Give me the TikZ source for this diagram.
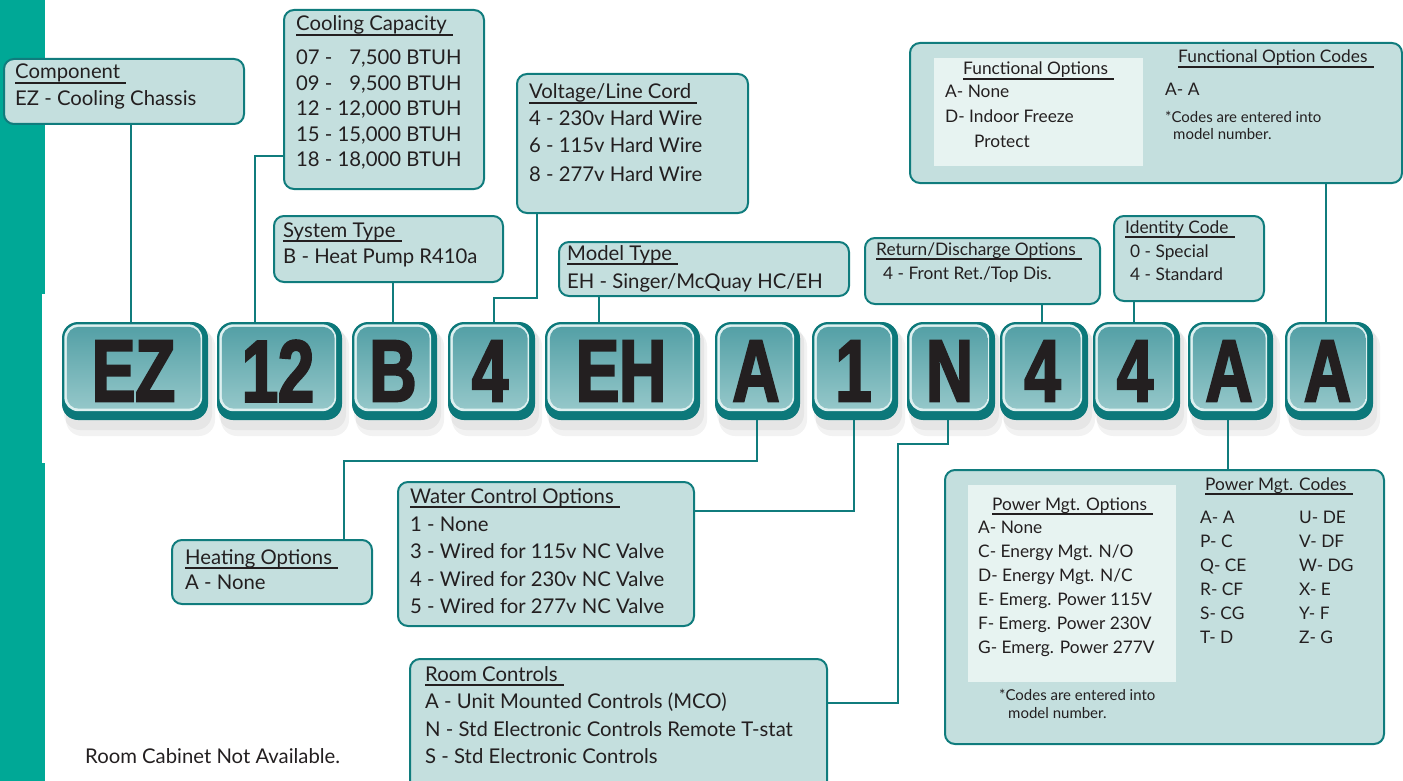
\documentclass[tikz,border=0pt]{standalone}
\usepackage{fontspec}
\setmainfont{Lato}
\newfontfamily\bigf{Liberation Sans}[FakeStretch=0.74,FakeBold=2.5]
\usetikzlibrary{calc}
\definecolor{boxfill}{RGB}{196,223,222}
\definecolor{boxline}{RGB}{16,124,125}
\definecolor{innerfill}{RGB}{231,243,241}
\definecolor{textcol}{RGB}{35,31,32}
\definecolor{stripcol}{RGB}{0,168,150}
\definecolor{keyrimc}{RGB}{12,120,122}
\definecolor{keytop}{RGB}{84,160,166}
\definecolor{keybot}{RGB}{148,199,201}
\definecolor{keyhlc}{RGB}{222,240,240}
\newcommand\fmain{\fontsize{20.3}{20.3}\selectfont}
\newcommand\fsmall{\fontsize{17.3}{17.3}\selectfont}
\newcommand\ffoot{\fontsize{15}{15}\selectfont}
\newcommand\ttl[4][\fmain]{%
  \node[txt,font=#1] (#2) at (#3) {#4};
  \draw[ulline] ([yshift=-4pt]#2.base west) -- ([yshift=-4pt,xshift=6pt]#2.base east);}
\newcommand\keybox[4]{%
  \fill[keyshadow] (#2-#3/2+2,326) rectangle (#2+#3/2+4,430);
  \fill[keyshadow] (#2-#3/2+4,330) rectangle (#2+#3/2+7,436);
  \node[keyrim, minimum width=#3pt] (#1) at (#2,371) {};
  \fill[keyhl] ([xshift=2.5pt,yshift=-2.5pt]#1.north west) rectangle ([xshift=-6pt,yshift=9pt]#1.south east);
  \shade[keyface] ([xshift=5pt,yshift=-5pt]#1.north west) rectangle ([xshift=-7.5pt,yshift=11.5pt]#1.south east);
  \node[keytxt] (#1t) at ([xshift=-1.5pt]#1.center) {#4};}
\begin{document}
\begin{tikzpicture}[x=1pt,y=-1pt,
  info/.style={draw=boxline, line width=2pt, fill=boxfill, rounded corners=10pt, inner sep=0pt, anchor=north west},
  innerbox/.style={fill=innerfill, inner sep=0pt, anchor=north west},
  conn/.style={draw=boxline, line width=2pt},
  txt/.style={anchor=base west, inner sep=0pt, text=textcol, font=\fmain},
  ulline/.style={draw=textcol, line width=1.1pt},
  keyrim/.style={fill=keyrimc, rounded corners=16pt, inner sep=0pt, minimum height=98pt},
  keyhl/.style={fill=keyhlc, rounded corners=14pt},
  keyface/.style={top color=keytop, bottom color=keybot, rounded corners=12pt},
  keytxt/.style={inner sep=0pt, text=textcol, font=\bigf\bfseries\fontsize{88}{88}\selectfont},
  keyshadow/.style={fill=black, opacity=0.05, rounded corners=16pt}]
\useasboundingbox (0,0) rectangle (1403,781);
% left strip
\fill[stripcol] (0,0) rectangle (45,781);
\fill[white] (42,294) rectangle (60,463);

% key row
\keybox{kEZ}{135}{146}{EZ}
\keybox{k12}{279.5}{125}{12}
\keybox{kB}{394.5}{85}{B}
\keybox{kfa}{491.5}{87}{4}
\keybox{kEH}{622.5}{155}{EH}
\keybox{kAa}{757.5}{85}{A}
\keybox{kone}{855}{86}{1}
\keybox{kN}{951}{88}{N}
\keybox{kfb}{1044}{88}{4}
\keybox{kfc}{1136.5}{87}{4}
\keybox{kAb}{1230.5}{85}{A}
\keybox{kAc}{1329}{88}{A}

% info boxes
\node[info, minimum width=240pt, minimum height=65pt] (comp) at (3,58) {};
\node[info, minimum width=200pt, minimum height=179pt] (cool) at (283,9) {};
\node[info, minimum width=229pt, minimum height=66pt] (sys) at (273,215) {};
\node[info, minimum width=231pt, minimum height=139pt] (volt) at (516,73) {};
\node[info, minimum width=290pt, minimum height=54pt] (model) at (558,241) {};
\node[info, minimum width=235pt, minimum height=66pt] (ret) at (864,237) {};
\node[info, minimum width=150pt, minimum height=85pt] (ident) at (1113,215) {};
\node[info, minimum width=492pt, minimum height=140pt] (func) at (909,42) {};
\node[innerbox, minimum width=209pt, minimum height=108pt] (funcin) at (934,58) {};
\node[info, minimum width=200pt, minimum height=64pt] (heat) at (171,539) {};
\node[info, minimum width=296pt, minimum height=144pt] (water) at (397,481) {};
\node[info, minimum width=417pt, minimum height=140pt] (room) at (409,658) {};
\node[info, minimum width=439pt, minimum height=274pt] (power) at (944,469) {};
\node[innerbox, minimum width=208pt, minimum height=197pt] (powin) at (968,485) {};

% connectors
\draw[conn] (kEZ.north -| 131,0) -- (comp.south -| 131,0);
\draw[conn] (k12.north -| 255,0) -- (255,156) -- (cool.west |- 0,156);
\draw[conn] (kB.north -| 393,0) -- (sys.south -| 393,0);
\draw[conn] (kfa.north -| 494,0) -- (494,298) -- (537,298) -- (volt.south -| 537,0);
\draw[conn] (kEH.north -| 599,0) -- (model.south -| 599,0);
\draw[conn] (kAa.south -| 757,0) -- (757,461) -- (344,461) -- (heat.north -| 344,0);
\draw[conn] (kone.south -| 854,0) -- (854,511) -- (water.east |- 0,511);
\draw[conn] (kN.south -| 948,0) -- (948,444) -- (898,444) -- (898,703) -- (room.east |- 0,703);
\draw[conn] (kfb.north -| 1042,0) -- (ret.south -| 1042,0);
\draw[conn] (kfc.north -| 1134,0) -- (ident.south -| 1134,0);
\draw[conn] (kAb.south -| 1228,0) -- (power.north -| 1228,0);
\draw[conn] (kAc.north -| 1326,0) -- (func.south -| 1326,0);

% texts
\ttl{tcomp}{15,79}{Component}
\node[txt] (lcomp) at (15,106) {EZ - Cooling Chassis};

\ttl{tcool}{296,31}{Cooling Capacity}
\node[txt] (lcoola) at (296,65) {07 - \hphantom{12,000}\llap{7,500} BTUH};
\node[txt] (lcoolb) at (296,91) {09 - \hphantom{12,000}\llap{9,500} BTUH};
\node[txt] (lcoolc) at (296,116) {12 - 12,000 BTUH};
\node[txt] (lcoold) at (296,142) {15 - 15,000 BTUH};
\node[txt] (lcoole) at (296,167) {18 - 18,000 BTUH};

\ttl{tsys}{283,237}{System Type}
\node[txt] (lsys) at (283,263) {B - Heat Pump R410a};

\ttl{tvolt}{529,99}{Voltage/Line Cord}
\node[txt] (lvolta) at (529,126) {4 - 230v Hard Wire};
\node[txt] (lvoltb) at (529,153) {6 - 115v Hard Wire};
\node[txt] (lvoltc) at (529,181) {8 - 277v Hard Wire};

\ttl{tmodel}{567,260}{Model Type}
\node[txt] (lmodel) at (567,288) {EH - Singer/McQuay HC/EH};

\ttl[\fsmall]{tret}{876,255}{Return/Discharge Options}
\node[txt,font=\fsmall] (lret) at (883,279) {4 - Front Ret./Top Dis.};

\ttl[\fsmall]{tident}{1125,233}{Identity Code}
\node[txt,font=\fsmall] (lidenta) at (1130,257) {0 - Special};
\node[txt,font=\fsmall] (lidentb) at (1130,280) {4 - Standard};

\ttl[\fsmall]{tfunc}{963,75}{Functional Options}
\node[txt,font=\fsmall] (lfunca) at (945,98) {A- None};
\node[txt,font=\fsmall] (lfuncb) at (945,123) {D- Indoor Freeze};
\node[txt,font=\fsmall] (lfuncc) at (974,147) {Protect};
\ttl[\fsmall]{tfcodes}{1178,63}{Functional Option Codes}
\node[txt,font=\fsmall] (lfcode) at (1165,96) {A- A};
\node[txt,font=\ffoot] (lfnotea) at (1165,123) {*Codes are entered into};
\node[txt,font=\ffoot] (lfnoteb) at (1173,140) {model number.};

\ttl{theat}{185,564}{Heating Options}
\node[txt] (lheat) at (185,589) {A - None};

\ttl{twater}{410,503}{Water Control Options}
\node[txt] (lwatera) at (410,531) {1 - None};
\node[txt] (lwaterb) at (410,558) {3 - Wired for 115v NC Valve};
\node[txt] (lwaterc) at (410,586) {4 - Wired for 230v NC Valve};
\node[txt] (lwaterd) at (410,613) {5 - Wired for 277v NC Valve};

\ttl{troom}{425,681}{Room Controls}
\node[txt] (lrooma) at (425,708) {A - Unit Mounted Controls (MCO)};
\node[txt] (lroomb) at (425,736) {N - Std Electronic Controls Remote T-stat};
\node[txt] (lroomc) at (425,763) {S - Std Electronic Controls};

\node[txt] (cabinet) at (85,763) {Room Cabinet Not Available.};

\ttl[\fsmall]{tpow}{992,510}{Power Mgt. Options}
\node[txt,font=\fsmall] (lpowa) at (978,533) {A- None};
\node[txt,font=\fsmall] (lpowb) at (978,557) {C- Energy Mgt. N/O};
\node[txt,font=\fsmall] (lpowc) at (978,581) {D- Energy Mgt. N/C};
\node[txt,font=\fsmall] (lpowd) at (978,605) {E- Emerg. Power 115V};
\node[txt,font=\fsmall] (lpowe) at (978,629) {F- Emerg. Power 230V};
\node[txt,font=\fsmall] (lpowf) at (978,653) {G- Emerg. Power 277V};
\ttl[\fsmall]{tpcodes}{1205,490}{Power Mgt. Codes}
\node[txt,font=\fsmall] (pca) at (1200,523) {A- A};
\node[txt,font=\fsmall] (pcb) at (1200,547) {P- C};
\node[txt,font=\fsmall] (pcc) at (1200,571) {Q- CE};
\node[txt,font=\fsmall] (pcd) at (1200,595) {R- CF};
\node[txt,font=\fsmall] (pce) at (1200,619) {S- CG};
\node[txt,font=\fsmall] (pcf) at (1200,643) {T- D};
\node[txt,font=\fsmall] (pcg) at (1299,523) {U- DE};
\node[txt,font=\fsmall] (pch) at (1299,547) {V- DF};
\node[txt,font=\fsmall] (pci) at (1299,571) {W- DG};
\node[txt,font=\fsmall] (pcj) at (1299,595) {X- E};
\node[txt,font=\fsmall] (pck) at (1299,619) {Y- F};
\node[txt,font=\fsmall] (pcl) at (1299,643) {Z- G};
\node[txt,font=\ffoot] (lpnotea) at (999,700) {*Codes are entered into};
\node[txt,font=\ffoot] (lpnoteb) at (1008,718) {model number.};
\end{tikzpicture}
\end{document}
